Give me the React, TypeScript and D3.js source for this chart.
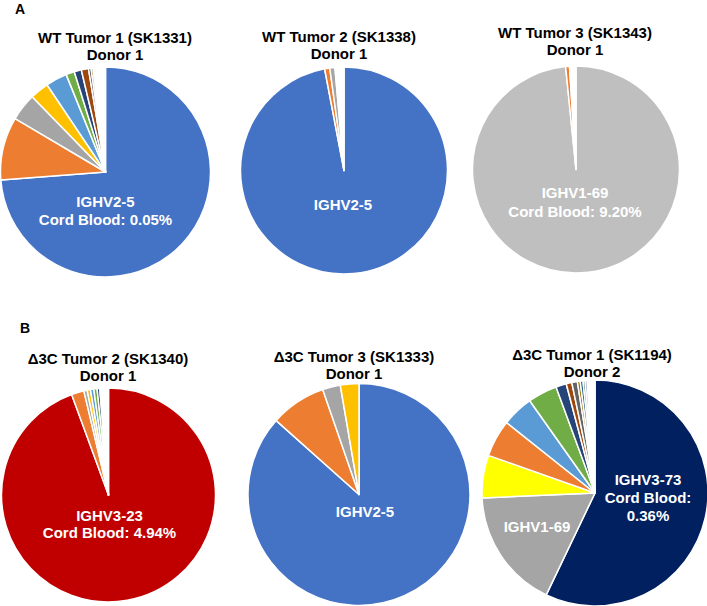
import * as d3 from 'd3'

// chart texts
const panelLetters = ['A', 'B']
const titles = [
  'WT Tumor 1 (SK1331)',
  'WT Tumor 2 (SK1338)',
  'WT Tumor 3 (SK1343)',
  '\u03943C Tumor 2 (SK1340)',
  '\u03943C Tumor 3 (SK1333)',
  '\u03943C Tumor 1 (SK1194)',
]
const donors = ['Donor 1', 'Donor 1', 'Donor 1', 'Donor 1', 'Donor 1', 'Donor 2']

// clone shares (%) per tumor, dominant clone first, last value = minor clones
const wt1Values = [73.8, 9.7, 4.2, 2.9, 3.3, 1.3, 1.1, 1.1, 0.4, 0.3, 0.2, 1.7]
const wt2Values = [97.0, 0.8, 0.8, 1.4]
const wt3Values = [98.4, 0.6, 1.0]
const d3c2Values = [94.4, 1.9, 0.5, 0.5, 0.5, 0.5, 0.4, 1.3]
const d3c3Values = [86.6, 8.1, 2.6, 2.7]
const d3c1Values = [57.1, 17.2, 6.1, 5.3, 4.5, 4.2, 1.5, 0.8, 0.8, 0.4, 0.4, 0.3, 0.3, 1.1]

// in-slice labels
const wt1Labels = ['IGHV2-5', 'Cord Blood: 0.05%']
const wt2Labels = ['IGHV2-5']
const wt3Labels = ['IGHV1-69', 'Cord Blood: 9.20%']
const d3c2Labels = ['IGHV3-23', 'Cord Blood: 4.94%']
const d3c3Labels = ['IGHV2-5']
const d3c1Labels = ['IGHV3-73', 'Cord Blood:', '0.36%']
const d3c1SecondLabel = ['IGHV1-69']

// colours (Office palette)
const office = ['#4472C4', '#ED7D31', '#A5A5A5', '#FFC000', '#5B9BD5', '#70AD47', '#264478', '#9E480E', '#636363', '#997300', '#255E91', '#43682B']
const wt1Colors = [...office.slice(0, 11), '#FFFFFF']
const wt2Colors = ['#4472C4', '#ED7D31', '#A5A5A5', '#FFFFFF']
const wt3Colors = ['#BFBFBF', '#ED7D31', '#FFFFFF']
const d3c2Colors = ['#C00000', '#ED7D31', '#A5A5A5', '#FFC000', '#5B9BD5', '#70AD47', '#264478', '#FFFFFF']
const d3c3Colors = ['#4472C4', '#ED7D31', '#A5A5A5', '#FFC000']
const d3c1Colors = ['#002060', '#A5A5A5', '#FFFF00', '#ED7D31', '#5B9BD5', '#70AD47', '#264478', '#9E480E', '#636363', '#997300', '#255E91', '#43682B', '#698ED0', '#FFFFFF']

const font = '"Liberation Sans", Arial, sans-serif'

const pies = [
  { values: wt1Values, colors: wt1Colors, labels: wt1Labels, cx: 105.5, cy: 172, r: 105, tx: 115, ty: [43, 60], lx: 0, ly: 35, lh: 18 },
  { values: wt2Values, colors: wt2Colors, labels: wt2Labels, cx: 344, cy: 170.5, r: 103.5, tx: 339, ty: [42, 59], lx: -1, ly: 39.5, lh: 18 },
  { values: wt3Values, colors: wt3Colors, labels: wt3Labels, cx: 576, cy: 169.5, r: 103.5, tx: 575, ty: [38, 55], lx: -1, ly: 28.5, lh: 19 },
  { values: d3c2Values, colors: d3c2Colors, labels: d3c2Labels, cx: 108.5, cy: 495, r: 107, tx: 108, ty: [364, 381], lx: 1, ly: 26, lh: 17 },
  { values: d3c3Values, colors: d3c3Colors, labels: d3c3Labels, cx: 359, cy: 494.5, r: 111, tx: 354, ty: [362, 379], lx: 6, ly: 22, lh: 18 },
  { values: d3c1Values, colors: d3c1Colors, labels: d3c1Labels, cx: 595, cy: 493, r: 113, tx: 592, ty: [360, 377], lx: 53, ly: -8, lh: 18 },
]

const PieChart = ({ p, i }) => {
  const arcs = d3.pie<number>().sort(null).value((d) => d)(p.values)
  const arc = d3.arc<d3.PieArcDatum<number>>().innerRadius(0).outerRadius(p.r)
  return (
    <g>
      <text x={p.tx} y={p.ty[0]} textAnchor="middle" fontFamily={font} fontWeight="bold" fontSize={15} fill="#000">{titles[i]}</text>
      <text x={p.tx} y={p.ty[1]} textAnchor="middle" fontFamily={font} fontWeight="bold" fontSize={15} fill="#000">{donors[i]}</text>
      <g transform={`translate(${p.cx},${p.cy})`}>
        {arcs.map((a, k) => (
          <path key={k} d={arc(a) || ''} fill={p.colors[k]} stroke="#fff" strokeWidth={1.5} strokeLinejoin="round" />
        ))}
        {p.labels.map((t, k) => (
          <text key={k} x={p.lx} y={p.ly + k * p.lh} textAnchor="middle" fontFamily={font} fontWeight="bold" fontSize={15} fill="#fff">{t}</text>
        ))}
        {i === 5 && d3c1SecondLabel.map((t, k) => (
          <text key={'s' + k} x={-58} y={39 + k * 18} textAnchor="middle" fontFamily={font} fontWeight="bold" fontSize={15} fill="#fff">{t}</text>
        ))}
      </g>
    </g>
  )
}

export default function App() {
  return (
    <div style={{ position: 'absolute', left: 0, top: 0, width: 707, height: 606, background: '#fff' }}>
      <svg width={707} height={606} style={{ display: 'block' }}>
        <rect width={707} height={606} fill="#fff" />
        <text x={15} y={14} fontFamily={font} fontWeight="bold" fontSize={14}>{panelLetters[0]}</text>
        <text x={20} y={333} fontFamily={font} fontWeight="bold" fontSize={14}>{panelLetters[1]}</text>
        {pies.map((p, i) => <PieChart key={i} p={p} i={i} />)}
      </svg>
    </div>
  )
}
